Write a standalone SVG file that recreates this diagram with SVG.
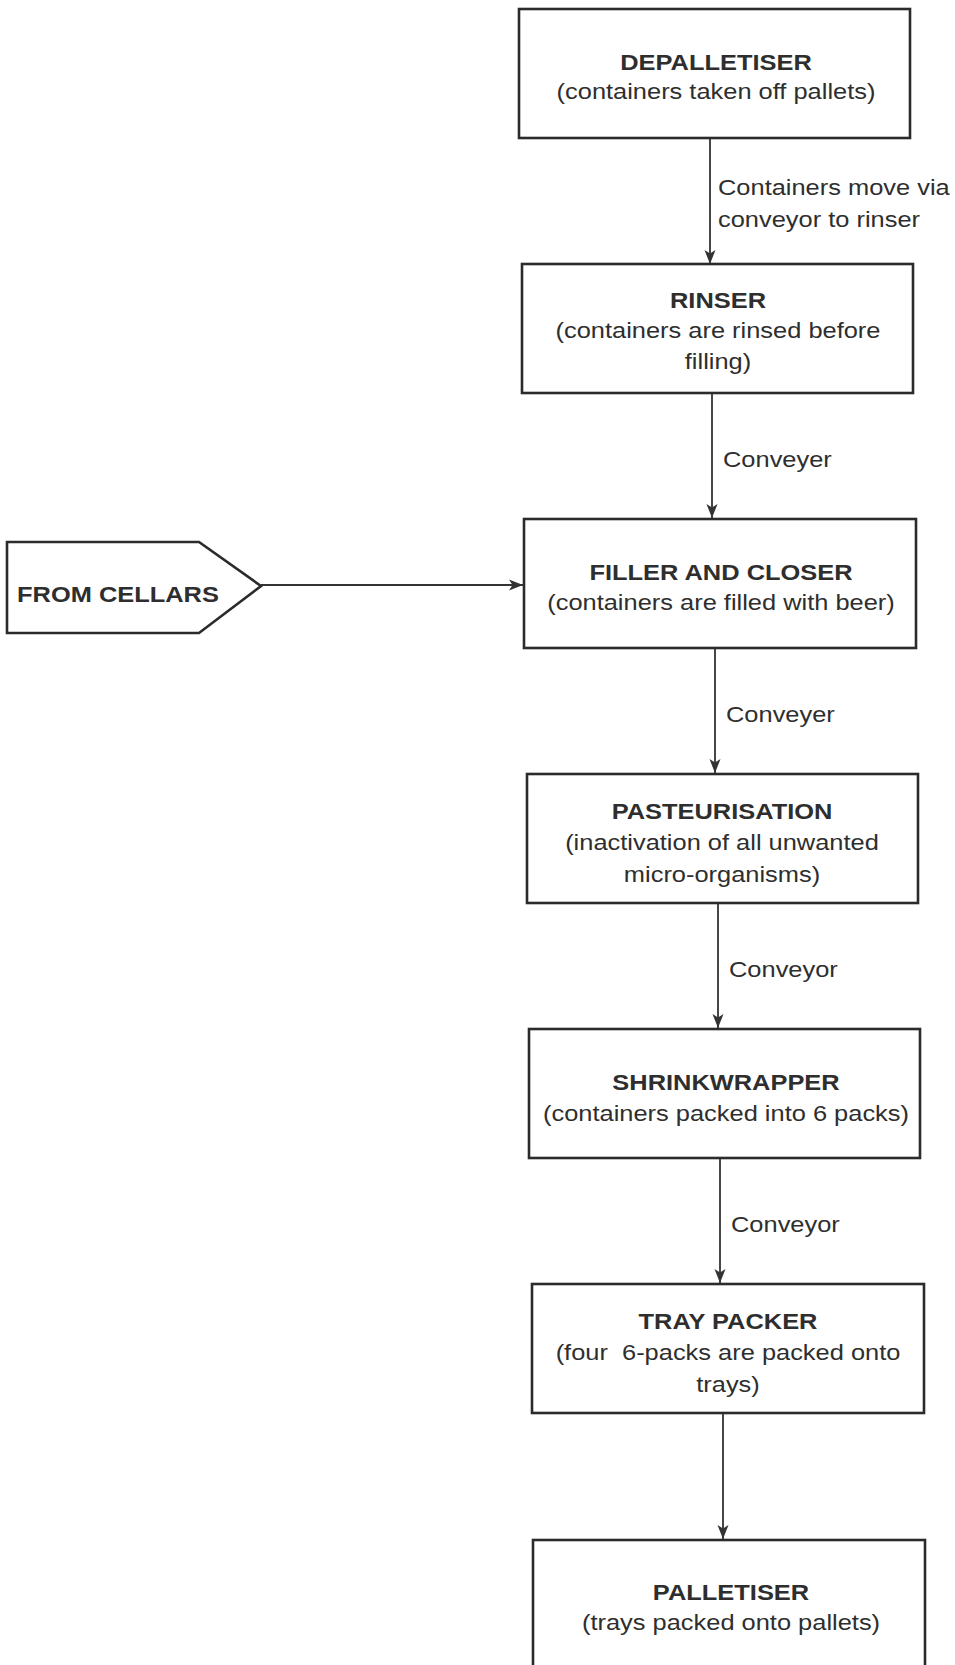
<svg xmlns="http://www.w3.org/2000/svg" width="955" height="1665" viewBox="0 0 955 1665">
  <style>
    .box { fill: #ffffff; stroke: #2b2b2b; stroke-width: 2.6; }
    .link { fill: none; stroke: #333333; stroke-width: 1.8; }
    text { font-family: "Liberation Sans", Arial, Helvetica, sans-serif; font-size: 22.5px; fill: #2e2e2e; }
    .title { font-weight: bold; text-anchor: middle; }
    .sub { text-anchor: middle; }
    .lbl { text-anchor: start; }
    .tag { font-weight: bold; text-anchor: start; }
  </style>
  <defs>
    <marker id="arrow" viewBox="0 0 16 12" refX="15" refY="6" markerWidth="16" markerHeight="12" markerUnits="userSpaceOnUse" orient="auto">
      <path d="M15,6 L1,0.5 L4.5,6 L1,11.5 Z" fill="#333333"/>
    </marker>
  </defs>
  <rect width="955" height="1665" fill="#ffffff"/>

  <!-- connectors -->
  <g id="connectors">
    <line class="link" x1="710" y1="138" x2="710" y2="264" marker-end="url(#arrow)"/>
    <line class="link" x1="712" y1="393" x2="712" y2="518" marker-end="url(#arrow)"/>
    <line class="link" x1="715" y1="648" x2="715" y2="773" marker-end="url(#arrow)"/>
    <line class="link" x1="718" y1="903" x2="718" y2="1028" marker-end="url(#arrow)"/>
    <line class="link" x1="720" y1="1158" x2="720" y2="1283" marker-end="url(#arrow)"/>
    <line class="link" x1="723" y1="1413" x2="723" y2="1539" marker-end="url(#arrow)"/>
    <line class="link" x1="261" y1="585" x2="523" y2="585" marker-end="url(#arrow)"/>
    <text class="lbl" transform="translate(718 195) scale(1.13 1)">Containers move via</text>
    <text class="lbl" transform="translate(718 227) scale(1.13 1)">conveyor to rinser</text>
    <text class="lbl" transform="translate(723 467) scale(1.13 1)">Conveyer</text>
    <text class="lbl" transform="translate(726 722) scale(1.13 1)">Conveyer</text>
    <text class="lbl" transform="translate(729 977) scale(1.13 1)">Conveyor</text>
    <text class="lbl" transform="translate(731 1232) scale(1.13 1)">Conveyor</text>
  </g>

  <!-- process steps -->
  <g id="depalletiser">
    <rect class="box" x="519" y="9" width="391" height="129"/>
    <text class="title" transform="translate(716 70) scale(1.13 1)">DEPALLETISER</text>
    <text class="sub" transform="translate(716 99) scale(1.13 1)">(containers taken off pallets)</text>
  </g>

  <g id="rinser">
    <rect class="box" x="522" y="264" width="391" height="129"/>
    <text class="title" transform="translate(718 308) scale(1.13 1)">RINSER</text>
    <text class="sub" transform="translate(718 338) scale(1.13 1)">(containers are rinsed before</text>
    <text class="sub" transform="translate(718 369) scale(1.13 1)">filling)</text>
  </g>

  <g id="from-cellars">
    <path class="box" d="M7,542 L199,542 L261,586 L199,633 L7,633 Z"/>
    <text class="tag" transform="translate(17 602) scale(1.13 1)">FROM CELLARS</text>
  </g>

  <g id="filler-closer">
    <rect class="box" x="524" y="519" width="392" height="129"/>
    <text class="title" transform="translate(721 580) scale(1.13 1)">FILLER AND CLOSER</text>
    <text class="sub" transform="translate(721 610) scale(1.13 1)">(containers are filled with beer)</text>
  </g>

  <g id="pasteurisation">
    <rect class="box" x="527" y="774" width="391" height="129"/>
    <text class="title" transform="translate(722 819) scale(1.13 1)">PASTEURISATION</text>
    <text class="sub" transform="translate(722 850) scale(1.13 1)">(inactivation of all unwanted</text>
    <text class="sub" transform="translate(722 882) scale(1.13 1)">micro-organisms)</text>
  </g>

  <g id="shrinkwrapper">
    <rect class="box" x="529" y="1029" width="391" height="129"/>
    <text class="title" transform="translate(726 1090) scale(1.13 1)">SHRINKWRAPPER</text>
    <text class="sub" transform="translate(726 1121) scale(1.13 1)">(containers packed into 6 packs)</text>
  </g>

  <g id="tray-packer">
    <rect class="box" x="532" y="1284" width="392" height="129"/>
    <text class="title" transform="translate(728 1329) scale(1.13 1)">TRAY PACKER</text>
    <text class="sub" transform="translate(728 1360) scale(1.13 1)" xml:space="preserve">(four  6-packs are packed onto</text>
    <text class="sub" transform="translate(728 1392) scale(1.13 1)">trays)</text>
  </g>

  <g id="palletiser">
    <rect class="box" x="533" y="1540" width="392" height="140"/>
    <text class="title" transform="translate(731 1600) scale(1.13 1)">PALLETISER</text>
    <text class="sub" transform="translate(731 1630) scale(1.13 1)">(trays packed onto pallets)</text>
  </g>
</svg>
